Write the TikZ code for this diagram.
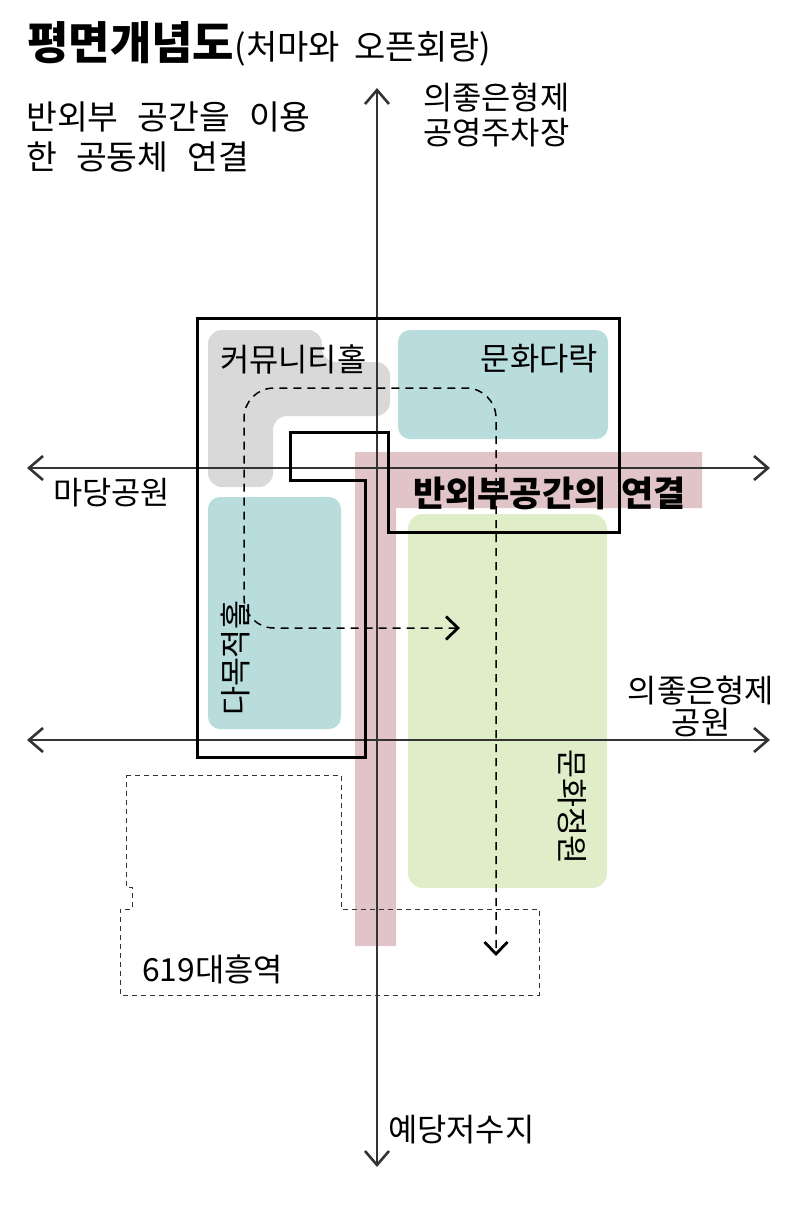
\documentclass[tikz,border=0pt]{standalone}
\usepackage{fontspec}
\setmainfont{Noto Sans CJK KR}[WordSpace=1.9]
\usetikzlibrary{arrows.meta}
\definecolor{chall}{HTML}{D9D9D9}
\definecolor{cteal}{HTML}{B9DCDC}
\definecolor{cgreen}{HTML}{DFEDC8}
\definecolor{cpink}{HTML}{E0C4C8}
\definecolor{caxis}{HTML}{333333}
\newcommand\widesp{\spaceskip=19pt\relax}
\tikzset{
  lbl/.style={inner sep=0pt, anchor=base west, font=\fontsize{31.8}{38}\selectfont},
  desc/.style={inner sep=0pt, anchor=base west, font=\fontsize{33.5}{40}\selectfont, execute at begin node=\widesp},
  axis/.style={draw=caxis, line width=1.5pt,
    {Straight Barb[length=14pt,width=24pt,line width=2.6pt]}-{Straight Barb[length=14pt,width=24pt,line width=2.6pt]}},
  route/.style={draw=black, line width=1.5pt, dash pattern=on 8pt off 6pt, rounded corners=30pt,
    {Straight Barb[length=12pt,width=23pt,line width=2.8pt]}-{Straight Barb[length=12pt,width=23pt,line width=2.8pt]}},
  station/.style={draw=caxis, line width=1pt, dash pattern=on 5pt off 4pt},
  frame/.style={draw=black, line width=3pt, line join=miter}
}
\begin{document}
\begin{tikzpicture}[x=1pt,y=-1pt]
\useasboundingbox (0,0) rectangle (795,1217);
% fills
\fill[chall, rounded corners=14pt] (208,330) -- (322,330) -- (322,362) -- (390,362) -- (390,416) -- (273,416) -- (273,487) -- (208,487) -- cycle;
\fill[cteal, rounded corners=12pt] (398,330) rectangle (608,439);
\fill[cteal, rounded corners=12pt] (208,497) rectangle (341,729);
\fill[cgreen, rounded corners=15pt] (408,514) rectangle (607,888);
\fill[cpink] (355,452) -- (702,452) -- (702,508) -- (396,508) -- (396,946) -- (355,946) -- cycle;
% station outline
\draw[station] (126,775) -- (341,775) -- (341,909) -- (539,909) -- (539,995) -- (120,995) -- (120,909) -- (132,909) -- (132,887) -- (126,887) -- cycle;
% axes
\coordinate (vtop) at (377,88);
\coordinate (vbot) at (377,1167);
\coordinate (h1l) at (27,468);
\coordinate (h1r) at (770,468);
\coordinate (h2l) at (27,740);
\coordinate (h2r) at (770,740);
\draw[axis] (vtop) -- (vbot);
\draw[axis] (h1l) -- (h1r);
\draw[axis] (h2l) -- (h2r);
% frame
\draw[frame] (197,318) -- (619,318) -- (619,532) -- (388,532) -- (388,432) -- (290,432) -- (290,480) -- (365,480) -- (365,757) -- (197,757) -- cycle;
% route
\coordinate (rstart) at (460,628);
\coordinate (rend) at (496,956);
\draw[route] (rstart) -- (244,628) -- (244,388) -- (496,388) -- (rend);
% texts
\node[inner sep=0pt, anchor=base west, font=\fontsize{45}{52}\selectfont\bfseries] (title) at (27,60) {평면개념도};
\node[inner sep=0pt, anchor=base west, font=\fontsize{34}{40}\selectfont] (subtitle) at (title.base east) {(처마와 오픈회랑)};
\node[desc] (d1) at (26,130) {반외부 공간을 이용};
\node[desc] (d2) at (26,170) {한 공동체 연결};
\node[lbl] (n1) at (423,110) {의좋은형제};
\node[lbl] (n2) at (423,145) {공영주차장};
\node[lbl, anchor=base] (e1) at (701,702) {의좋은형제};
\node[lbl, anchor=base] (e2) at (701,734) {공원};
\node[lbl] (w) at (53,504) {마당공원};
\node[lbl] (s) at (388,1141) {예당저수지};
\node[lbl] (st) at (142,981) {619대흥역};
\node[lbl] (hall) at (220,371) {커뮤니티홀};
\node[lbl, anchor=base east] (darak) at (598,370) {문화다락};
\node[inner sep=0pt, anchor=base west, font=\fontsize{35}{42}\selectfont\bfseries] (link) at (413,506) {반외부공간의 연결};
\node[inner sep=0pt, rotate=90, font=\fontsize{31.5}{38}\selectfont] (multi) at (235,658) {다목적홀};
\node[inner sep=0pt, rotate=-90, font=\fontsize{31.5}{38}\selectfont] (garden) at (572,807) {문화정원};
\end{tikzpicture}
\end{document}
